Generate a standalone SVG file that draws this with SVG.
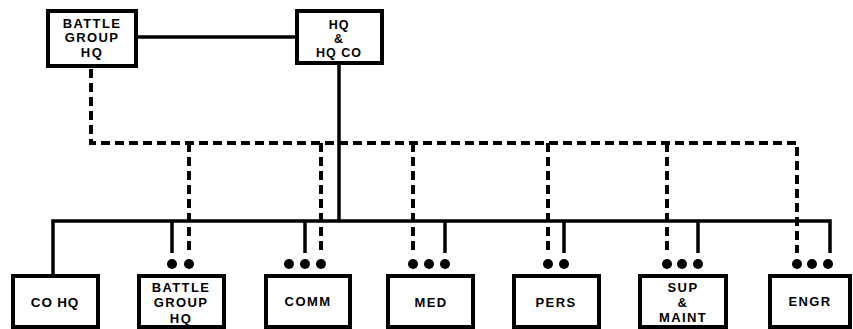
<svg xmlns="http://www.w3.org/2000/svg" width="853" height="329" viewBox="0 0 853 329">
<style>
.box{fill:#fff;stroke:#000;stroke-width:4}
.sol{fill:none;stroke:#000;stroke-width:3.5}
.dash{fill:none;stroke:#000;stroke-width:4;stroke-dasharray:9 5}
.t{font-family:"Liberation Sans",Arial,sans-serif;font-weight:bold;font-size:13px;text-anchor:middle;letter-spacing:1.4px;fill:#000}
.tb{font-size:12.5px;letter-spacing:1px}
.dot{fill:#000}
</style>
<rect width="853" height="329" fill="#fff"/>
<g id="connectors">
<line class="sol" x1="137" y1="37" x2="296" y2="37"/>
<line class="sol" x1="339" y1="65" x2="339" y2="221"/>
<polyline class="sol" points="53,275 53,221 830,221 830,253"/>
<line class="sol" x1="172" y1="221" x2="172" y2="253"/>
<line class="sol" x1="305" y1="221" x2="305" y2="253"/>
<line class="sol" x1="445" y1="221" x2="445" y2="253"/>
<line class="sol" x1="564" y1="221" x2="564" y2="253"/>
<line class="sol" x1="698" y1="221" x2="698" y2="253"/>
<polyline class="dash" points="91,69 91,143 797,143 797,253"/>
<line class="dash" x1="189" y1="143" x2="189" y2="253"/>
<line class="dash" x1="321" y1="143" x2="321" y2="253"/>
<line class="dash" x1="413" y1="143" x2="413" y2="253"/>
<line class="dash" x1="548" y1="143" x2="548" y2="253"/>
<line class="dash" x1="667" y1="143" x2="667" y2="253"/>
<g class="dot">
<circle cx="172" cy="264" r="5"/><circle cx="189" cy="264" r="5"/>
<circle cx="289" cy="264" r="5"/><circle cx="305" cy="264" r="5"/><circle cx="321" cy="264" r="5"/>
<circle cx="413" cy="264" r="5"/><circle cx="429" cy="264" r="5"/><circle cx="445" cy="264" r="5"/>
<circle cx="548" cy="264" r="5"/><circle cx="564" cy="264" r="5"/>
<circle cx="667" cy="264" r="5"/><circle cx="682" cy="264" r="5"/><circle cx="698" cy="264" r="5"/>
<circle cx="797" cy="264" r="5"/><circle cx="812" cy="264" r="5"/><circle cx="828" cy="264" r="5"/>
</g>
</g>
<g id="bg-hq-top">
<rect class="box" x="48" y="11" width="88" height="55"/>
<text class="t" x="92" y="28">BATTLE</text>
<text class="t" x="92" y="42">GROUP</text>
<text class="t" x="92" y="57">HQ</text>
</g>
<g id="hq-hqco">
<rect class="box" x="297" y="11" width="85" height="52"/>
<text class="t tb" x="339" y="29">HQ</text>
<text class="t tb" x="339" y="43">&amp;</text>
<text class="t tb" x="339" y="57">HQ CO</text>
</g>
<g id="co-hq">
<rect class="box" x="13" y="276" width="85" height="51"/>
<text class="t" x="55" y="307" style="font-size:13.5px;letter-spacing:0.8px">CO HQ</text>
</g>
<g id="bg-hq-bottom">
<rect class="box" x="139" y="276" width="85" height="51"/>
<text class="t" x="181" y="292">BATTLE</text>
<text class="t" x="181" y="307">GROUP</text>
<text class="t" x="181" y="323">HQ</text>
</g>
<g id="comm">
<rect class="box" x="266" y="276" width="84" height="51"/>
<text class="t" x="308" y="306">COMM</text>
</g>
<g id="med">
<rect class="box" x="388" y="276" width="85" height="51"/>
<text class="t" x="431" y="307">MED</text>
</g>
<g id="pers">
<rect class="box" x="514" y="276" width="85" height="51"/>
<text class="t" x="556" y="307">PERS</text>
</g>
<g id="sup-maint">
<rect class="box" x="640" y="276" width="86" height="51"/>
<text class="t" x="683" y="292">SUP</text>
<text class="t" x="683" y="307">&amp;</text>
<text class="t" x="683" y="322">MAINT</text>
</g>
<g id="engr">
<rect class="box" x="770" y="276" width="80" height="51"/>
<text class="t" x="810" y="306">ENGR</text>
</g>
</svg>
